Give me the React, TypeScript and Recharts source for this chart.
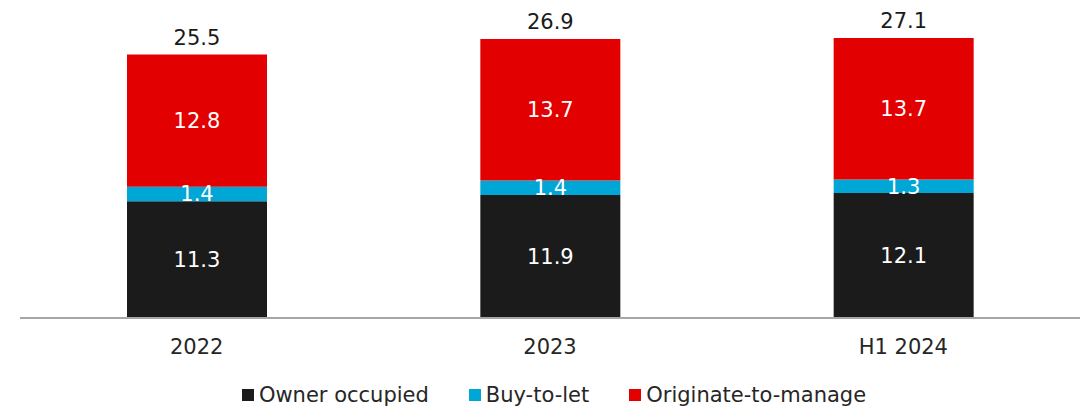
import React from "react";
import { BarChart, Bar, XAxis, YAxis, Legend, LabelList } from "recharts";

const categories = ["2022", "2023", "H1 2024"];
const ownerOccupied = [11.3, 11.9, 12.1];
const buyToLet = [1.4, 1.4, 1.3];
const originateToManage = [12.8, 13.7, 13.7];
const totals = [25.5, 26.9, 27.1];

const seriesNames = ["Owner occupied", "Buy-to-let", "Originate-to-manage"];
const colors = ["#1b1b1b", "#00a6d6", "#e30000"];

const data = categories.map((c, i) => ({
  name: c,
  owner: ownerOccupied[i],
  btl: buyToLet[i],
  otm: originateToManage[i],
  total: totals[i],
}));

const FONT = "'DejaVu Sans', Verdana, sans-serif";
const FS = 21;

const renderLegend = () => (
  <div
    style={{
      display: "flex",
      justifyContent: "center",
      fontFamily: FONT,
      fontSize: FS,
      color: "#262626",
      gap: 40,
      lineHeight: "28px",
      paddingLeft: 8,
    }}
  >
    {seriesNames.map((n, i) => (
      <div key={n} style={{ display: "flex", alignItems: "center" }}>
        <span
          style={{
            display: "inline-block",
            width: 12,
            height: 12,
            background: colors[i],
            marginRight: 5,
          }}
        />
        <span>{n}</span>
      </div>
    ))}
  </div>
);

const fmt = (v: any) => (typeof v === "number" ? v.toFixed(1) : v);

export default function App() {
  return (
    <div style={{ position: "absolute", left: 0, top: 0 }}>
      <BarChart
        width={1088}
        height={411}
        data={data}
        margin={{ top: 8, right: 8, left: 20, bottom: 0 }}
        barCategoryGap={0}
      >
        <XAxis
          dataKey="name"
          axisLine={{ stroke: "#a6a6a6", strokeWidth: 2 }}
          tickLine={false}
          tickMargin={15}
          height={63}
          tick={{ fill: "#262626", fontSize: FS, fontFamily: FONT }}
        />
        <YAxis hide domain={[0, 30]} />
        <Legend verticalAlign="bottom" content={renderLegend} height={30} />
        <Bar dataKey="owner" stackId="a" fill={colors[0]} barSize={140} isAnimationActive={false}>
          <LabelList dataKey="owner" position="center" fill="#ffffff" fontSize={FS} fontFamily={FONT} formatter={fmt} />
        </Bar>
        <Bar dataKey="btl" stackId="a" fill={colors[1]} barSize={140} isAnimationActive={false}>
          <LabelList dataKey="btl" position="center" fill="#ffffff" fontSize={FS} fontFamily={FONT} formatter={fmt} />
        </Bar>
        <Bar dataKey="otm" stackId="a" fill={colors[2]} barSize={140} isAnimationActive={false}>
          <LabelList dataKey="otm" position="center" fill="#ffffff" fontSize={FS} fontFamily={FONT} formatter={fmt} />
          <LabelList dataKey="total" position="top" offset={10} fill="#1a1a1a" fontSize={FS} fontFamily={FONT} formatter={fmt} />
        </Bar>
      </BarChart>
    </div>
  );
}
